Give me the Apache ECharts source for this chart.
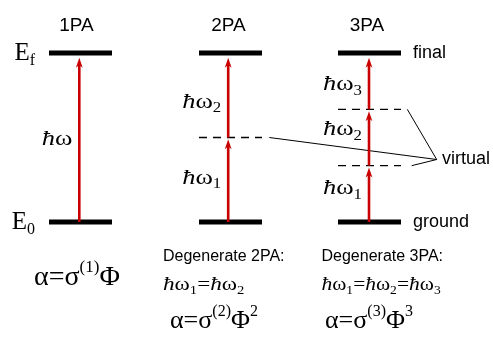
<!DOCTYPE html>
<html>
<head>
<meta charset="utf-8">
<script src="https://cdn.jsdelivr.net/npm/echarts@6/dist/echarts.min.js"></script>
<style>
html,body{margin:0;padding:0;background:#ffffff;}
#chart{width:493px;height:337px;}
</style>
</head>
<body>
<div id="chart"></div>
<script>
// ---------------- data ----------------
const processes = ['1PA', '2PA', '3PA'];
const groundEnergy = 0;
const finalEnergy = 3;
const virtualLevels = [[], [1.5], [1, 2]];
const photonIndices = [[0], [1, 2], [1, 2, 3]];   // 0 = no subscript
const stateNames = ['ground', 'final'];
const stateSymbols = ['0', 'f'];                 // E_0, E_f
const degenerateTitles = ['', 'Degenerate 2PA:', 'Degenerate 3PA:'];
const absorptionOrders = [1, 2, 3];
const virtualLabel = 'virtual';

// ---------------- styles / layout ----------------
const SANS = '"Liberation Sans", Arial, Helvetica, sans-serif';
const SERIF = '"Liberation Serif", "Times New Roman", Times, serif';
const RED = '#c80000';
const gridBoxes = [{left: 49, width: 63}, {left: 199, width: 63}, {left: 338, width: 63}];
const plotTop = 53, plotHeight = 169;
const arrowDx = [-1.2, -2.3, -0.5];
const labelDy = [[1.5], [-2, 6.5], [-5.5, -8, 3]];
const titlePos = [[76.5, 25.5], [228.5, 25.5], [367, 25.5]];
const textLeft = [[34, 0], [163, 170], [321.5, 325]];
const relationScale = [1, 1.22, 1.13];

function mathRich(fs, extra) {
  const L = Math.round(fs * 1.25);
  const sfs = Math.round(fs * 0.65);
  return Object.assign({
    h: {fontFamily: SERIF, fontStyle: 'italic', fontSize: fs, lineHeight: L, color: '#000'},
    w: {fontFamily: SERIF, fontSize: fs, lineHeight: L, color: '#000'},
    s: {fontFamily: SERIF, fontSize: sfs, lineHeight: sfs, verticalAlign: 'bottom', color: '#000'}
  }, extra || {});
}
function photonText(k) {
  return '{h|ħ}{w|ω}' + (k ? '{s|' + k + '}' : '');
}
function formulaRich(fs) {
  const L = Math.round(fs * 1.36);
  const pfs = Math.round(fs * 0.62);
  return {
    m: {fontFamily: SERIF, fontSize: fs, lineHeight: L, color: '#000'},
    p: {fontFamily: SERIF, fontSize: pfs, lineHeight: pfs, verticalAlign: 'top', color: '#000'}
  };
}
function formulaText(n) {
  return '{m|α=σ}{p|(' + n + ')}{m|Φ}' + (n > 1 ? '{p|' + n + '}' : '');
}

const chart = echarts.init(document.getElementById('chart'), null, {renderer: 'canvas'});

const grids = [], xAxes = [], yAxes = [], series = [];
processes.forEach((p, i) => {
  grids.push({left: gridBoxes[i].left, width: gridBoxes[i].width, top: plotTop, height: plotHeight});
  xAxes.push({type: 'category', gridIndex: i, data: [p], show: false});
  const yAx = {
    type: 'value', gridIndex: i, min: groundEnergy, max: finalEnergy, interval: finalEnergy - groundEnergy,
    axisLine: {show: false}, axisTick: {show: false}, splitLine: {show: false},
    axisLabel: {show: false}
  };
  if (i === 0) {
    yAx.position = 'left';
    yAx.axisLabel = {
      show: true, margin: 14,
      formatter: v => '{e|E}{s|' + (v === finalEnergy ? stateSymbols[1] : stateSymbols[0]) + '}',
      rich: {
        e: {fontFamily: SERIF, fontSize: 25, lineHeight: 31, color: '#000'},
        s: {fontFamily: SERIF, fontSize: 16, lineHeight: 16, verticalAlign: 'bottom', color: '#000'}
      }
    };
  }
  if (i === 2) {
    yAx.position = 'right';
    yAx.axisLabel = {
      show: true, margin: 12, fontFamily: SANS, fontSize: 18, color: '#000',
      formatter: v => (v === finalEnergy ? stateNames[1] : stateNames[0])
    };
  }
  yAxes.push(yAx);

  // energy levels
  const levelData = [[0, groundEnergy, 0], [0, finalEnergy, 0]].concat(virtualLevels[i].map(v => [0, v, 1]));
  series.push({
    type: 'custom', xAxisIndex: i, yAxisIndex: i, silent: true, animation: false,
    encode: {x: 0, y: 1}, data: levelData, z: 2,
    renderItem: (params, api) => {
      const c = api.coord([0, api.value(1)]);
      const w = api.size([1, 0])[0];
      const dashed = api.value(2) === 1;
      return {
        type: 'line',
        shape: {x1: c[0] - w / 2, y1: c[1], x2: c[0] + w / 2, y2: c[1]},
        style: {stroke: '#000', lineWidth: dashed ? 1.4 : 5, lineDash: dashed ? [8, 6] : null, fill: null}
      };
    }
  });

  // photon arrows
  const bounds = [groundEnergy].concat(virtualLevels[i], [finalEnergy]);
  const arrowData = [];
  for (let k = 0; k < bounds.length - 1; k++) {
    arrowData.push([0, bounds[k], bounds[k + 1], (k + 1 < bounds.length - 1) ? 1 : 0, photonIndices[i][k], k]);
  }
  series.push({
    type: 'custom', xAxisIndex: i, yAxisIndex: i, silent: true, animation: false,
    encode: {x: 0, y: 1}, data: arrowData, z: 3,
    renderItem: (params, api) => {
      const a = api.coord([0, api.value(1)]);
      const b = api.coord([0, api.value(2)]);
      const x = a[0] + arrowDx[i];
      const tipY = b[1] + (api.value(3) ? 1.8 : 4.8);
      const headL = 10, headW = 3.4;
      const k = api.value(5);
      return {
        type: 'group',
        children: [
          {type: 'line', shape: {x1: x, y1: a[1], x2: x, y2: tipY + headL * 0.6},
           style: {stroke: RED, lineWidth: 2.6}},
          {type: 'polygon',
           shape: {points: [[x, tipY], [x + headW, tipY + headL], [x, tipY + headL * 0.72], [x - headW, tipY + headL]]},
           style: {fill: RED}},
          {type: 'text', x: x - 7, y: (a[1] + b[1]) / 2 + labelDy[i][k], scaleX: 1.2,
           style: {text: photonText(api.value(4)), rich: mathRich(22), align: 'right', verticalAlign: 'middle'}}
        ]
      };
    }
  });
});

// text annotations
const graphic = [];
processes.forEach((p, i) => {
  graphic.push({type: 'text', x: titlePos[i][0], y: titlePos[i][1],
    style: {text: p, font: '19px ' + SANS, fill: '#000', align: 'center', verticalAlign: 'middle'}});
  if (i === 0) {
    graphic.push({type: 'text', x: textLeft[0][0], y: 278,
      style: {text: formulaText(absorptionOrders[0]), rich: formulaRich(28), align: 'left', verticalAlign: 'middle'}});
  } else {
    graphic.push({type: 'text', x: textLeft[i][0], y: 257,
      style: {text: degenerateTitles[i], font: '16px ' + SANS, fill: '#000', align: 'left', verticalAlign: 'middle'}});
    const rel = photonIndices[i].map(k => photonText(k)).join('{w|=}');
    graphic.push({type: 'text', x: textLeft[i][0], y: 285, scaleX: relationScale[i],
      style: {text: rel, rich: mathRich(19), align: 'left', verticalAlign: 'middle'}});
    graphic.push({type: 'text', x: textLeft[i][1], y: 321,
      style: {text: formulaText(absorptionOrders[i]), rich: formulaRich(26), align: 'left', verticalAlign: 'middle'}});
  }
});
graphic.push({type: 'text', x: 442, y: 159,
  style: {text: virtualLabel, font: '18px ' + SANS, fill: '#000', align: 'left', verticalAlign: 'middle'}});

chart.setOption({
  backgroundColor: '#ffffff',
  animation: false,
  grid: grids, xAxis: xAxes, yAxis: yAxes, series: series,
  graphic: graphic
});

// leader lines from virtual levels to the "virtual" label
const anchor = [436.7, 159.5];
const leaderStarts = [];
virtualLevels.forEach((levels, i) => {
  levels.forEach((v, j) => {
    const pt = chart.convertToPixel({xAxisIndex: i, yAxisIndex: i}, [0, v]);
    const right = gridBoxes[i].left + gridBoxes[i].width;
    const gap = (i === 1) ? 7.3 : (j === 0 ? 10.7 : 6.3);
    leaderStarts.push([right + gap, pt[1]]);
  });
});
leaderStarts.forEach(s => {
  graphic.push({type: 'line', shape: {x1: s[0], y1: s[1], x2: anchor[0], y2: anchor[1]},
    style: {stroke: '#000', lineWidth: 1}});
});
chart.setOption({graphic: graphic});
</script>
</body>
</html>
